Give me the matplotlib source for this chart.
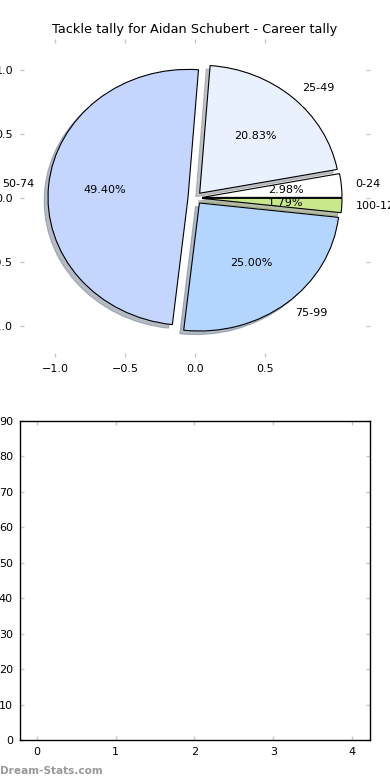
import matplotlib
matplotlib.use("Agg")
import matplotlib.pyplot as plt

# tackle tally buckets (counterclockwise from 0 degrees)
labels = ["0-24", "25-49", "50-74", "75-99", "100-124"]
counts = [5, 35, 83, 42, 3]
colors = ["#ffffff", "#e9f0fe", "#c4d6fe", "#b4d5fe", "#c9e78b"]
explode = [0.05, 0.05, 0.05, 0.05, 0.05]

pie_xticks = [-1.0, -0.5, 0.0, 0.5]
pie_yticks = [-1.0, -0.5, 0.0, 0.5, 1.0]
bar_yticks = list(range(0, 100, 10))
bar_xticks = [0, 1, 2, 3, 4]

plt.rcParams["font.family"] = ["DejaVu Sans"]
plt.rcParams["font.size"] = 8

fig = plt.figure(figsize=(3.9, 7.8), dpi=100)

ax1 = fig.add_axes([20 / 390, 1 - 357 / 780, 350 / 390, 318 / 780])
wedges, texts, autotexts = ax1.pie(
    counts,
    labels=labels,
    colors=colors,
    explode=explode,
    autopct="%1.2f%%",
    shadow={"ox": -0.02, "oy": -0.02, "shade": 0.45},
    startangle=0,
    labeldistance=1.1,
    pctdistance=0.6,
    wedgeprops={"edgecolor": "black", "linewidth": 0.8},
    textprops={"fontsize": 8},
)
ax1.set_aspect("auto")
ax1.set_frame_on(False)
ax1.set_xlim(-1.25, 1.25)
ax1.set_ylim(-1.242, 1.242)
ax1.set_xticks(pie_xticks)
ax1.set_yticks(pie_yticks)
ax1.set_title("Tackle tally for Aidan Schubert - Career tally", fontsize=9.3, pad=4)

ax2 = fig.add_axes([20 / 390, 40 / 780, 350 / 390, 319 / 780])
ax2.set_xlim(-0.216, 4.229)
ax2.set_ylim(0, 90)
ax2.set_xticks(bar_xticks)
ax2.set_yticks(bar_yticks)
for s in ax2.spines.values():
    s.set_linewidth(1.0)

for ax in (ax1, ax2):
    ax.tick_params(direction="in", length=3, width=1, color="#c8c8c8",
                   top=True, right=True, labelsize=8, pad=5)

fig.text(0.0, 6 / 780, "Dream-Stats.com", fontsize=7.6,
         fontweight="bold", color="#999999", va="baseline")

fig.savefig("out.png", dpi=100)
